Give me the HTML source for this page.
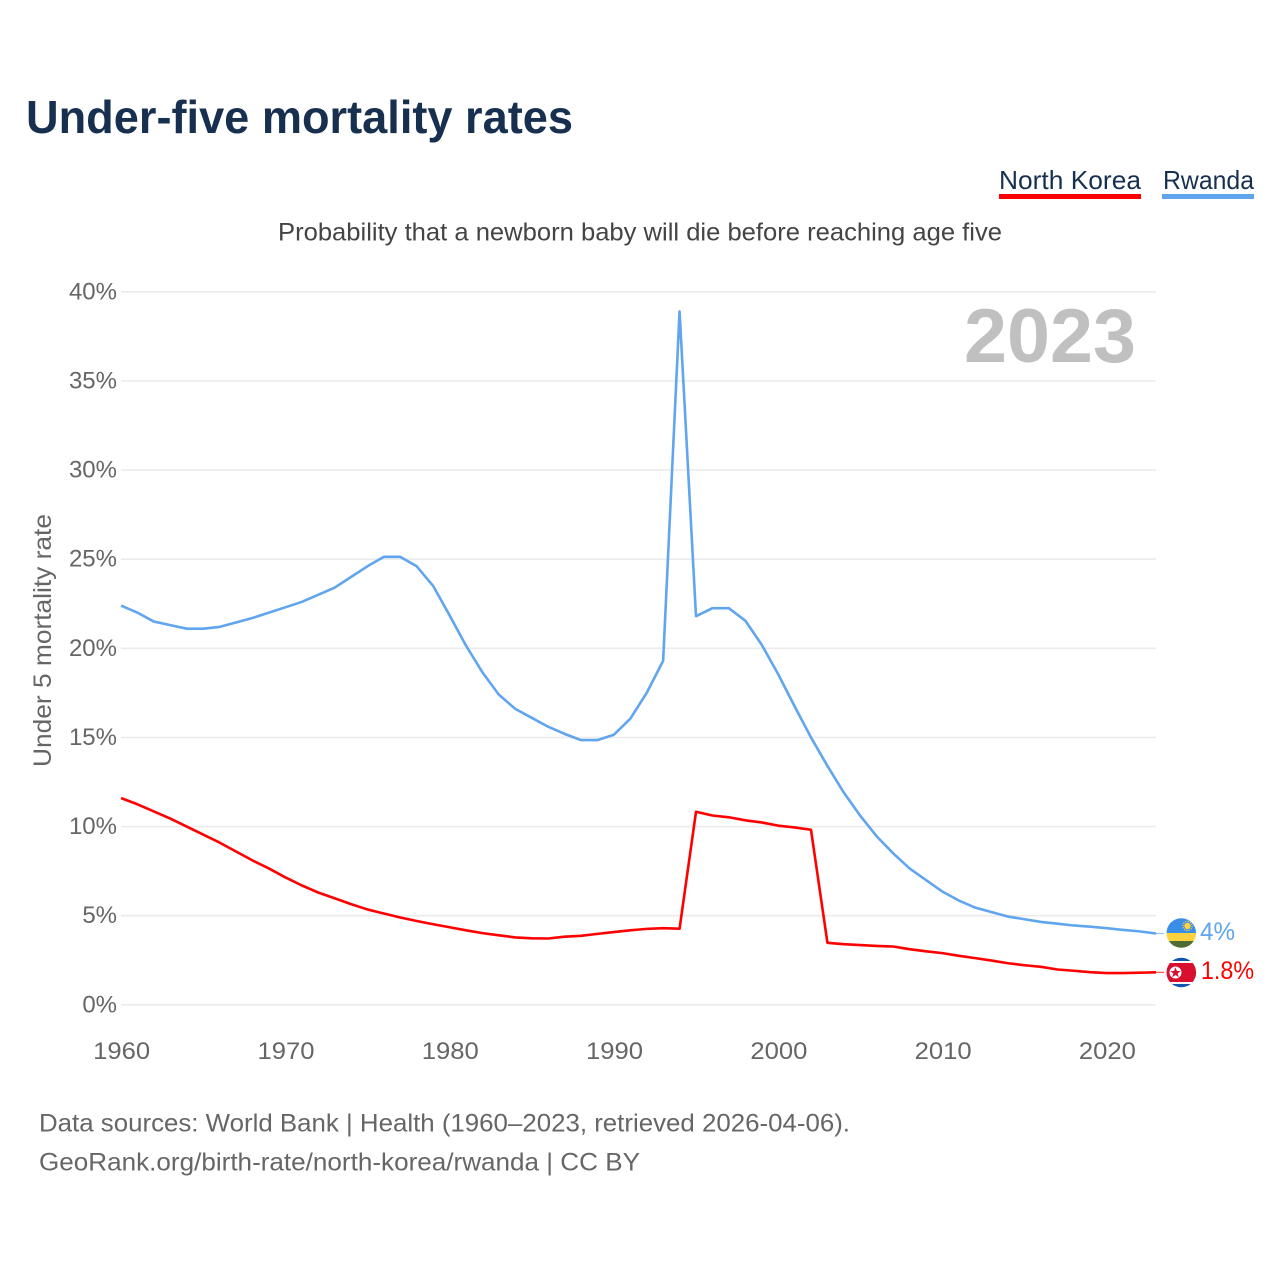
<!DOCTYPE html>
<html lang="en">
<head>
<meta charset="utf-8">
<title>Under-five mortality rates</title>
<style>
  html, body { margin: 0; padding: 0; background: #fff; }
  svg { display: block; font-family: "Liberation Sans", sans-serif; }
</style>
</head>
<body>
<svg id="chart" width="1280" height="1280" viewBox="0 0 1280 1280" xmlns="http://www.w3.org/2000/svg">
  <defs>
    <clipPath id="flag-clip-rw"><circle cx="1181.3" cy="933" r="14.8"/></clipPath>
    <clipPath id="flag-clip-kp"><circle cx="1181.3" cy="972.5" r="14.8"/></clipPath>
  </defs>
  <rect width="1280" height="1280" fill="#fff"/>

  <text x="26" y="133" font-size="46" font-weight="700" fill="#18304f" textLength="547" lengthAdjust="spacingAndGlyphs">Under-five mortality rates</text>

  <g>
    <text x="999" y="189" font-size="26" fill="#18304f" textLength="142" lengthAdjust="spacingAndGlyphs">North Korea</text>
    <rect x="999" y="194" width="142" height="5" fill="#ff0000"/>
  </g>
  <g>
    <text x="1163" y="189" font-size="26" fill="#18304f" textLength="91" lengthAdjust="spacingAndGlyphs">Rwanda</text>
    <rect x="1162" y="194" width="92" height="5" fill="#60a5ee"/>
  </g>

  <text x="278" y="240.5" font-size="25" fill="#444" textLength="724" lengthAdjust="spacingAndGlyphs">Probability that a newborn baby will die before reaching age five</text>

  <g id="grid"></g>
  <g id="y-axis"></g>
  <g id="x-axis"></g>

  <text transform="translate(51,767) rotate(-90)" x="0" y="0" font-size="25" fill="#666" textLength="253" lengthAdjust="spacingAndGlyphs">Under 5 mortality rate</text>

  <text x="964" y="362" font-size="76" font-weight="700" fill="#c0c0c0" textLength="172" lengthAdjust="spacingAndGlyphs">2023</text>

  <g id="series"></g>

  <g clip-path="url(#flag-clip-rw)">
    <rect x="1166" y="918" width="31" height="16" fill="#3b8ee8"/>
    <rect x="1166" y="933" width="31" height="8" fill="#fdd23c"/>
    <rect x="1166" y="941" width="31" height="8" fill="#4f6b34"/>
    <circle cx="1187.5" cy="926" r="3.2" fill="#fdd23c"/>
    <circle cx="1187.5" cy="926" r="4.6" fill="none" stroke="#fdd23c" stroke-width="1.2" stroke-dasharray="1.2 1.2"/>
  </g>
  <g clip-path="url(#flag-clip-kp)">
    <rect x="1166" y="957" width="31" height="31" fill="#0d55ad"/>
    <rect x="1166" y="961" width="31" height="23" fill="#fff"/>
    <rect x="1166" y="963" width="31" height="19" fill="#d80f2e"/>
    <circle cx="1175.5" cy="972.5" r="6" fill="#fff"/>
    <polygon points="1175.5,967.3 1176.9,971 1180.7,971 1177.6,973.5 1178.8,977.2 1175.5,975 1172.2,977.2 1173.4,973.5 1170.3,971 1174.1,971" fill="#d80f2e"/>
  </g>

  <text x="1200" y="940" font-size="25" fill="#60a5ee" textLength="35" lengthAdjust="spacingAndGlyphs">4%</text>
  <text x="1201" y="979" font-size="25" fill="#ff0000" textLength="53" lengthAdjust="spacingAndGlyphs">1.8%</text>

  <text x="39" y="1131.5" font-size="25" fill="#666" textLength="811" lengthAdjust="spacingAndGlyphs">Data sources: World Bank | Health (1960–2023, retrieved 2026-04-06).</text>
  <text x="39" y="1170.5" font-size="25" fill="#666" textLength="601" lengthAdjust="spacingAndGlyphs">GeoRank.org/birth-rate/north-korea/rwanda | CC BY</text>
</svg>
<script>
const startYear = 1960;
const endYear = 2023;
const yTicks = [0, 5, 10, 15, 20, 25, 30, 35, 40];
const yTickLabels = ["0%", "5%", "10%", "15%", "20%", "25%", "30%", "35%", "40%"];
const xTicks = [1960, 1970, 1980, 1990, 2000, 2010, 2020];
const xTickLabels = ["1960", "1970", "1980", "1990", "2000", "2010", "2020"];
const rwandaValues = [22.4,22.0,21.5,21.3,21.1,21.1,21.2,21.45,21.7,22.0,22.3,22.6,23.0,23.4,24.0,24.6,25.13,25.13,24.6,23.5,21.85,20.15,18.65,17.4,16.6,16.1,15.6,15.2,14.85,14.85,15.15,16.05,17.5,19.3,38.9,21.8,22.25,22.25,21.55,20.2,18.55,16.75,15.0,13.4,11.9,10.6,9.45,8.5,7.65,7.0,6.35,5.85,5.45,5.2,4.95,4.8,4.65,4.55,4.45,4.38,4.3,4.2,4.12,4.0];
const northKoreaValues = [11.6,11.25,10.85,10.45,10.0,9.55,9.1,8.6,8.1,7.65,7.15,6.7,6.3,5.98,5.65,5.35,5.12,4.9,4.7,4.52,4.35,4.18,4.02,3.9,3.78,3.73,3.72,3.82,3.87,3.98,4.08,4.18,4.26,4.3,4.27,10.83,10.62,10.52,10.35,10.23,10.05,9.95,9.82,3.48,3.4,3.35,3.3,3.27,3.12,3.0,2.9,2.75,2.62,2.48,2.33,2.22,2.13,1.98,1.91,1.83,1.78,1.78,1.8,1.82];

const SVG_NS = "http://www.w3.org/2000/svg";
const plotLeft = 121, plotRight = 1156, plotBottom = 1004.8, plotTop = 291.8;
function xScale(year) {
  return plotLeft + (year - startYear) * (plotRight - plotLeft) / (endYear - startYear);
}
function yScale(value) {
  return plotBottom - value * (plotBottom - plotTop) / 40;
}
function make(tag, attrs, parent) {
  const el = document.createElementNS(SVG_NS, tag);
  for (const key in attrs) el.setAttribute(key, attrs[key]);
  parent.appendChild(el);
  return el;
}

const grid = document.getElementById("grid");
const yAxis = document.getElementById("y-axis");
const xAxis = document.getElementById("x-axis");
const series = document.getElementById("series");

yTicks.forEach(function (tick, i) {
  const line = make("line", { x1: plotLeft, x2: plotRight, y1: yScale(tick), y2: yScale(tick), stroke: "#ebebeb", "stroke-width": 1.6 }, grid);
  
  
  const label = make("text", { x: 117, y: yScale(tick) + 7.5, "text-anchor": "end", "font-size": 24, fill: "#666" }, yAxis);
  
  
  label.textContent = yTickLabels[i];
});

xTicks.forEach(function (tick, i) {
  const label = make("text", { x: xScale(tick) + 0.7, y: 1059, "text-anchor": "middle", "font-size": 24, fill: "#666", textLength: 57, lengthAdjust: "spacingAndGlyphs" }, xAxis);
  
  
  label.textContent = xTickLabels[i];
});

function toPoints(values) {
  return values.map(function (v, i) {
    return xScale(startYear + i).toFixed(2) + "," + yScale(v).toFixed(2);
  }).join(" ");
}

const rwandaLine = make("polyline", { points: toPoints(rwandaValues), fill: "none", stroke: "#60a5ee", "stroke-width": 2.6, "stroke-linejoin": "round" }, series);



const koreaLine = make("polyline", { points: toPoints(northKoreaValues), fill: "none", stroke: "#ff0000", "stroke-width": 2.6, "stroke-linejoin": "round" }, series);



const rwandaLast = rwandaValues[rwandaValues.length - 1];
const koreaLast = northKoreaValues[northKoreaValues.length - 1];
const rwandaConnector = make("line", { x1: plotRight, x2: 1164, y1: yScale(rwandaLast), y2: yScale(rwandaLast), stroke: "#60a5ee", "stroke-width": 1.2, opacity: 0.7 }, series);


const koreaConnector = make("line", { x1: plotRight, x2: 1164, y1: yScale(koreaLast), y2: yScale(koreaLast), stroke: "#ff0000", "stroke-width": 1.2, opacity: 0.7 }, series);


</script>
</body>
</html>
